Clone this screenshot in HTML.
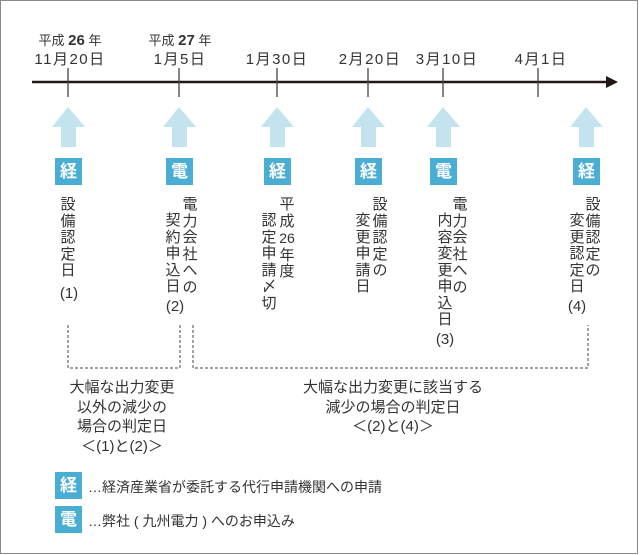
<!DOCTYPE html>
<html><head><meta charset="utf-8"><style>
body{margin:0;background:#fff;}
#c{position:relative;width:640px;height:555px;overflow:hidden;font-family:"Liberation Sans","Noto Sans CJK JP",sans-serif;color:#333;}
.frame{position:absolute;left:0;top:0;width:636px;height:552px;border:1.5px solid #8a8a8a;}
.t{position:absolute;white-space:nowrap;transform:translateX(-50%);text-align:center;}
.d{font-size:15px;letter-spacing:1.5px;top:48px;}
.col{position:absolute;width:18px;margin-left:-9px;text-align:center;font-size:15px;line-height:16.5px;color:#333;}
.b{position:absolute;width:27px;height:27px;background:#4aaed4;color:#fff;font-weight:bold;font-size:17px;line-height:27px;text-align:center;}
</style></head><body><div id="c">
<div class="frame"></div>
<svg width="640" height="555" style="position:absolute;left:0;top:0">
<line x1="32" y1="82" x2="610" y2="82" stroke="#231815" stroke-width="2.5"/>
<polygon points="606,76 618,82 606,88" fill="#231815"/>
<g stroke="#444" stroke-width="1.3">
<line x1="68" y1="68" x2="68" y2="97"/><line x1="179" y1="68" x2="179" y2="97"/><line x1="277" y1="68" x2="277" y2="97"/><line x1="368" y1="68" x2="368" y2="97"/><line x1="443" y1="68" x2="443" y2="97"/><line x1="538" y1="68" x2="538" y2="97"/>
</g>
<g fill="#c3e4ef">
<polygon points="52,127 68,107 85,127 76,127 76,147 61,147 61,127"/>
<polygon points="163,127 179,107 196,127 187,127 187,147 172,147 172,127"/>
<polygon points="261,127 277,107 294,127 285,127 285,147 270,147 270,127"/>
<polygon points="352,127 368,107 385,127 376,127 376,147 361,147 361,127"/>
<polygon points="427,127 443,107 460,127 451,127 451,147 436,147 436,127"/>
<polygon points="570,127 586,107 603,127 594,127 594,147 579,147 579,127"/>
</g>
<g stroke="#444" stroke-width="1" stroke-dasharray="3,2" fill="none">
<path d="M68,325 V368 H180 V325"/>
<path d="M193,325 V368 H588 V325"/>
</g>
</svg>
<div class="t" style="left:70px;top:30px;font-size:13px">平成 <b style="font-size:15px">26</b> 年</div>
<div class="t d" style="left:70px">11月20日</div>
<div class="t" style="left:180px;top:30px;font-size:13px">平成 <b style="font-size:15px">27</b> 年</div>
<div class="t d" style="left:180px">1月5日</div>
<div class="t d" style="left:277px">1月30日</div>
<div class="t d" style="left:370px">2月20日</div>
<div class="t d" style="left:447px">3月10日</div>
<div class="t d" style="left:541px">4月1日</div>
<div class="b" style="left:55px;top:158px">経</div>
<div class="b" style="left:166px;top:158px">電</div>
<div class="b" style="left:264px;top:158px">経</div>
<div class="b" style="left:355px;top:158px">経</div>
<div class="b" style="left:430px;top:158px">電</div>
<div class="b" style="left:573px;top:158px">経</div>
<div class="col" style="left:68px;top:197px">設<br>備<br>認<br>定<br>日</div>
<div class="t" style="left:69px;top:285px;font-size:15px">(1)</div>
<div class="col" style="left:190px;top:197px">電<br>力<br>会<br>社<br>へ<br>の</div>
<div class="col" style="left:173px;top:213px">契<br>約<br>申<br>込<br>日</div>
<div class="t" style="left:175px;top:298px;font-size:15px">(2)</div>
<div class="col" style="left:287px;top:197px">平<br>成<br><span style="font-size:14px">26</span><br>年<br>度</div>
<div class="col" style="left:269px;top:213px">認<br>定<br>申<br>請<br>〆<br>切</div>
<div class="col" style="left:380px;top:197px">設<br>備<br>認<br>定<br>の</div>
<div class="col" style="left:363px;top:213px">変<br>更<br>申<br>請<br>日</div>
<div class="col" style="left:460px;top:197px">電<br>力<br>会<br>社<br>へ<br>の</div>
<div class="col" style="left:445px;top:213px">内<br>容<br>変<br>更<br>申<br>込<br>日</div>
<div class="t" style="left:445px;top:331px;font-size:15px">(3)</div>
<div class="col" style="left:593px;top:197px">設<br>備<br>認<br>定<br>の</div>
<div class="col" style="left:577px;top:213px">変<br>更<br>認<br>定<br>日</div>
<div class="t" style="left:577px;top:298px;font-size:15px">(4)</div>
<div class="t" style="left:122px;top:378px;font-size:15px;line-height:19.5px">大幅な出力変更<br>以外の減少の<br>場合の判定日<br>＜(1)と(2)＞</div>
<div class="t" style="left:393px;top:378px;font-size:15px;line-height:19.5px">大幅な出力変更に該当する<br>減少の場合の判定日<br>＜(2)と(4)＞</div>
<div class="b" style="left:55px;top:472px">経</div>
<div class="b" style="left:55px;top:506px">電</div>
<div style="position:absolute;left:88px;top:477px;font-size:14px;white-space:nowrap">…経済産業省が委託する代行申請機関への申請</div>
<div style="position:absolute;left:88px;top:511px;font-size:14px;white-space:nowrap">…弊社 ( 九州電力 ) へのお申込み</div>
</div></body></html>
